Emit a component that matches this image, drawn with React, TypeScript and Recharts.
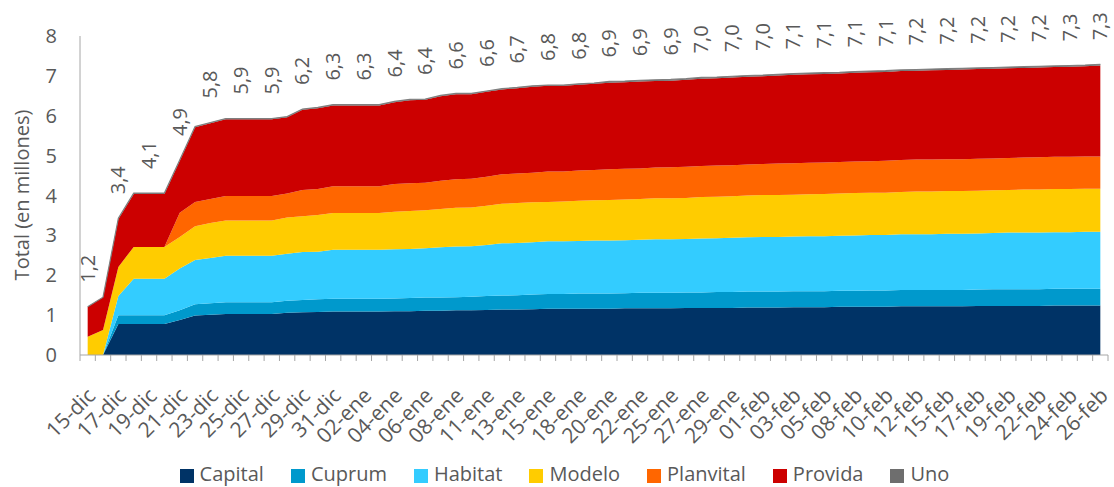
import React from "react";
import { AreaChart, Area, XAxis, YAxis, Legend, LabelList } from "recharts";

const fechas = [
  "15-dic", "16-dic", "17-dic", "18-dic", "19-dic", "20-dic", "21-dic", "22-dic", "23-dic", "24-dic",
  "25-dic", "26-dic", "27-dic", "28-dic", "29-dic", "30-dic", "31-dic",
  "01-ene", "02-ene", "03-ene", "04-ene", "05-ene", "06-ene", "07-ene", "08-ene", "10-ene",
  "11-ene", "12-ene", "13-ene", "14-ene", "15-ene", "17-ene", "18-ene", "19-ene", "20-ene", "21-ene",
  "22-ene", "24-ene", "25-ene", "26-ene", "27-ene", "28-ene", "29-ene", "31-ene",
  "01-feb", "02-feb", "03-feb", "04-feb", "05-feb", "07-feb", "08-feb", "09-feb", "10-feb", "11-feb",
  "12-feb", "14-feb", "15-feb", "16-feb", "17-feb", "18-feb", "19-feb", "21-feb", "22-feb", "23-feb",
  "24-feb", "25-feb", "26-feb",
];

const capital = [
  0, 0, 0.78, 0.78, 0.78, 0.78, 0.88, 0.99, 1.01, 1.03, 1.03, 1.03, 1.03, 1.06, 1.07, 1.08, 1.09,
  1.09, 1.09, 1.09, 1.1, 1.1, 1.11, 1.11, 1.12, 1.12, 1.13, 1.14, 1.14, 1.15, 1.16, 1.16, 1.16, 1.16,
  1.16, 1.17, 1.17, 1.17, 1.17, 1.18, 1.18, 1.18, 1.18, 1.19, 1.19, 1.19, 1.2, 1.2, 1.2, 1.21, 1.21,
  1.21, 1.21, 1.22, 1.22, 1.22, 1.22, 1.22, 1.23, 1.23, 1.23, 1.23, 1.23, 1.24, 1.24, 1.24, 1.24,
];
const cuprum = [
  0, 0, 0.22, 0.22, 0.22, 0.22, 0.24, 0.28, 0.29, 0.29, 0.29, 0.29, 0.29, 0.3, 0.31, 0.32, 0.32,
  0.32, 0.32, 0.32, 0.32, 0.33, 0.33, 0.33, 0.33, 0.34, 0.35, 0.35, 0.36, 0.37, 0.37, 0.37, 0.38, 0.38,
  0.38, 0.38, 0.39, 0.39, 0.39, 0.39, 0.39, 0.4, 0.4, 0.4, 0.4, 0.4, 0.4, 0.4, 0.4, 0.4, 0.4,
  0.41, 0.41, 0.41, 0.41, 0.41, 0.41, 0.41, 0.41, 0.42, 0.42, 0.42, 0.42, 0.42, 0.42, 0.42, 0.42,
];
const habitat = [
  0, 0, 0.48, 0.91, 0.91, 0.91, 1.05, 1.11, 1.13, 1.17, 1.17, 1.17, 1.17, 1.18, 1.2, 1.19, 1.23,
  1.23, 1.23, 1.23, 1.23, 1.23, 1.24, 1.26, 1.27, 1.27, 1.28, 1.31, 1.31, 1.31, 1.32, 1.32, 1.32, 1.33,
  1.33, 1.33, 1.33, 1.34, 1.34, 1.34, 1.35, 1.35, 1.36, 1.36, 1.37, 1.37, 1.37, 1.38, 1.38, 1.38, 1.39,
  1.39, 1.39, 1.4, 1.4, 1.4, 1.41, 1.41, 1.41, 1.41, 1.42, 1.42, 1.42, 1.42, 1.42, 1.43, 1.43,
];
const modelo = [
  0.46, 0.63, 0.73, 0.8, 0.8, 0.8, 0.79, 0.85, 0.88, 0.88, 0.88, 0.88, 0.88, 0.91, 0.9, 0.92, 0.92,
  0.92, 0.92, 0.92, 0.94, 0.95, 0.95, 0.96, 0.97, 0.97, 0.98, 0.99, 1.0, 1.0, 0.99, 1.0, 1.01, 1.01,
  1.02, 1.02, 1.02, 1.03, 1.03, 1.03, 1.04, 1.04, 1.04, 1.05, 1.05, 1.05, 1.05, 1.05, 1.06, 1.06, 1.06,
  1.06, 1.06, 1.06, 1.07, 1.07, 1.07, 1.07, 1.07, 1.07, 1.07, 1.08, 1.08, 1.08, 1.08, 1.08, 1.08,
];
const planvital = [
  0, 0, 0, 0, 0, 0, 0.61, 0.61, 0.6, 0.62, 0.62, 0.62, 0.62, 0.6, 0.66, 0.65, 0.67,
  0.67, 0.67, 0.67, 0.7, 0.7, 0.69, 0.71, 0.72, 0.72, 0.73, 0.74, 0.74, 0.74, 0.76, 0.75, 0.76, 0.76,
  0.77, 0.77, 0.77, 0.77, 0.78, 0.78, 0.78, 0.78, 0.78, 0.78, 0.78, 0.79, 0.79, 0.79, 0.79, 0.79, 0.79,
  0.79, 0.8, 0.8, 0.8, 0.8, 0.8, 0.8, 0.8, 0.8, 0.8, 0.8, 0.81, 0.81, 0.81, 0.81, 0.81,
];
const provida = [
  0.75, 0.82, 1.2, 1.33, 1.33, 1.33, 1.3, 1.87, 1.9, 1.92, 1.92, 1.92, 1.92, 1.91, 2.01, 2.03, 2.03,
  2.03, 2.03, 2.03, 2.05, 2.08, 2.08, 2.12, 2.13, 2.12, 2.13, 2.13, 2.14, 2.16, 2.15, 2.15, 2.15, 2.16,
  2.17, 2.17, 2.18, 2.17, 2.17, 2.18, 2.19, 2.19, 2.2, 2.2, 2.2, 2.21, 2.22, 2.22, 2.22, 2.22, 2.23,
  2.23, 2.23, 2.23, 2.23, 2.24, 2.24, 2.25, 2.25, 2.25, 2.25, 2.25, 2.25, 2.25, 2.26, 2.26, 2.28,
];
const uno = [
  0, 0, 0.02, 0.02, 0.02, 0.02, 0.02, 0.02, 0.02, 0.02, 0.02, 0.02, 0.02, 0.02, 0.02, 0.02, 0.02,
  0.02, 0.02, 0.02, 0.02, 0.02, 0.02, 0.02, 0.02, 0.02, 0.02, 0.02, 0.02, 0.02, 0.02, 0.02, 0.02, 0.02,
  0.03, 0.03, 0.03, 0.03, 0.03, 0.03, 0.03, 0.03, 0.03, 0.03, 0.03, 0.03, 0.03, 0.03, 0.03, 0.03, 0.03,
  0.03, 0.03, 0.03, 0.03, 0.03, 0.03, 0.03, 0.03, 0.03, 0.03, 0.03, 0.03, 0.03, 0.03, 0.03, 0.03,
];

const yTicks = [0, 1, 2, 3, 4, 5, 6, 7, 8];

const series = [
  { key: "Capital", values: capital, color: "#003366" },
  { key: "Cuprum", values: cuprum, color: "#0099CC" },
  { key: "Habitat", values: habitat, color: "#33CCFF" },
  { key: "Modelo", values: modelo, color: "#FFCC00" },
  { key: "Planvital", values: planvital, color: "#FF6600" },
  { key: "Provida", values: provida, color: "#CC0000" },
  { key: "Uno", values: uno, color: "#6E6E6E" },
];

const data = fechas.map((fecha, i) => {
  const row: Record<string, number | string> = { fecha };
  let sum = 0;
  series.forEach((s) => {
    row[s.key] = s.values[i];
    sum += s.values[i];
  });
  row.total = Math.round(sum * 100) / 100;
  return row;
});

const W = 1114;
const H = 487;
const PLOT_LEFT = 80;
const PLOT_RIGHT = 1108;
const HALF = (PLOT_RIGHT - PLOT_LEFT) / fechas.length / 2;
const FONT = "'Open Sans', sans-serif";
const TXT = "#595959";
const AXIS = "#a6a6a6";

const fmt = (v: number) => v.toFixed(1).replace(".", ",");

function XTick(props: any) {
  const { x, y, payload, index } = props;
  const i = payload?.index ?? index;
  const ax = x + 9;
  const ay = y + 42;
  return (
    <g>
      <line x1={x - HALF} x2={x - HALF} y1={y} y2={y + 6} stroke={AXIS} />
      {i === fechas.length - 1 && <line x1={x + HALF} x2={x + HALF} y1={y} y2={y + 6} stroke={AXIS} />}
      {i % 2 === 0 && (
        <text
          x={ax}
          y={ay}
          transform={`rotate(-45 ${ax} ${ay})`}
          textAnchor="end"
          fontSize={21}
          fontFamily={FONT}
          fill={TXT}
        >
          {payload.value}
        </text>
      )}
    </g>
  );
}

function TotalLabel(props: any) {
  const { x, y, index, value } = props;
  if (index % 2 !== 0) return null;
  const ty = y - 24;
  return (
    <text
      x={x}
      y={ty}
      transform={`rotate(-90 ${x} ${ty})`}
      textAnchor="start"
      dy="0.35em"
      fontSize={20}
      fontFamily={FONT}
      fill={TXT}
    >
      {fmt(Number(value))}
    </text>
  );
}

function YTitle() {
  return (
    <text
      x={21}
      y={195}
      transform="rotate(-90 21 195)"
      textAnchor="middle"
      dominantBaseline="central"
      fontSize={20}
      fontFamily={FONT}
      fill={TXT}
    >
      Total (en millones)
    </text>
  );
}

function LegendBox() {
  return (
    <div
      style={{
        display: "flex",
        justifyContent: "center",
        height: 26,
        lineHeight: "26px",
        fontFamily: FONT,
        fontSize: 20,
        color: TXT,
        paddingLeft: 42,
      }}
    >
      {series.map((s) => (
        <div key={s.key} style={{ display: "flex", alignItems: "center", marginRight: 27 }}>
          <span style={{ width: 14, height: 14, background: s.color, marginRight: 6, marginTop: 3 }} />
          <span>{s.key}</span>
        </div>
      ))}
    </div>
  );
}

export default function App() {
  return (
    <div style={{ position: "absolute", left: 0, top: 0, width: W, height: H, overflow: "hidden", background: "#fff" }}>
      <AreaChart width={W} height={H} data={data} margin={{ top: 36, right: W - PLOT_RIGHT, bottom: 0, left: 0 }}>
        <XAxis
          dataKey="fecha"
          interval={0}
          padding={{ left: HALF, right: HALF }}
          tick={<XTick />}
          tickLine={false}
          tickSize={0}
          tickMargin={0}
          height={106}
          axisLine={{ stroke: AXIS }}
        />
        <YAxis
          domain={[0, 8]}
          ticks={yTicks}
          width={PLOT_LEFT}
          tickLine={false}
          tickSize={0}
          tickMargin={23}
          axisLine={{ stroke: AXIS }}
          tick={{ fontSize: 20, fill: TXT, fontFamily: FONT }}
          label={<YTitle />}
        />
        <Legend verticalAlign="bottom" content={<LegendBox />} wrapperStyle={{ left: 0, width: W, bottom: 0 }} />
        {series.map((s) => (
          <Area
            key={s.key}
            type="linear"
            dataKey={s.key}
            stackId="1"
            fill={s.color}
            fillOpacity={1}
            stroke={s.key === "Uno" ? "#7f7f7f" : "none"}
            strokeWidth={s.key === "Uno" ? 1.2 : 0}
            isAnimationActive={false}
            dot={false}
            activeDot={false}
          >
            {s.key === "Uno" && <LabelList dataKey="total" content={<TotalLabel />} />}
          </Area>
        ))}
      </AreaChart>
    </div>
  );
}
